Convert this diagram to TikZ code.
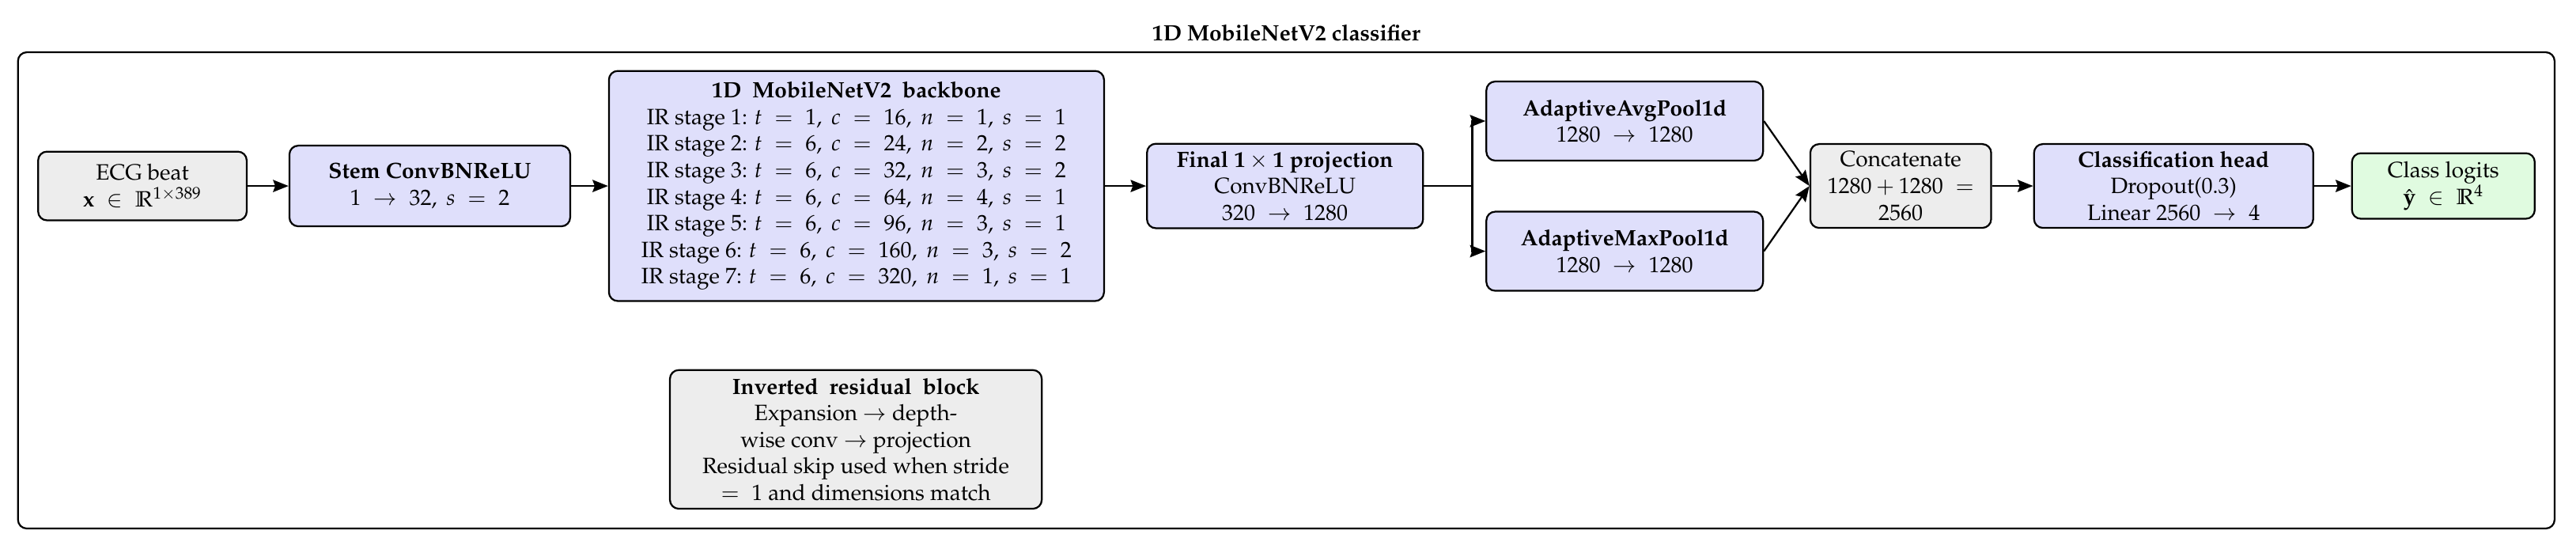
\documentclass[tikz,border=0pt]{standalone}
\usepackage[T1]{fontenc}
\usepackage{mathpazo}
\usepackage{amsmath}
\usepackage{amssymb}
\usepackage{tikz}
\usetikzlibrary{positioning, calc, arrows.meta}
\definecolor{layer}{RGB}{223,223,251}
\definecolor{boxgray}{RGB}{237,237,237}
\definecolor{outgreen}{RGB}{224,251,224}
\thickmuskip=10mu plus 2mu

\begin{document}
\begin{tikzpicture}[>={Stealth[length=7pt, width=5.5pt, inset=1pt]},
    block/.style={draw, thick, rounded corners, fill=layer, align=center, inner sep=3pt},
    plain/.style={draw, thick, rounded corners, fill=boxgray, align=center, inner sep=3pt}]
    \useasboundingbox (0,0) rectangle (40.875,-8.772);
    % outer frame
    \node[draw, thick, rounded corners, minimum width=40.25cm, minimum height=7.555cm,
      label={[font=\bfseries, label distance=1pt]above:1D MobileNetV2 classifier}] (frame) at (20.41,-4.606) {};

    % input and stem
    \node[plain, minimum width=3.31cm, minimum height=1.09cm] (X) at (2.26,-2.95) {ECG beat\\$\mathbf{x} \in \mathbb{R}^{1\times 389}$};
    \node[block, minimum width=4.455cm, minimum height=1.28cm] (S) at (6.82,-2.95) {\textbf{Stem ConvBNReLU}\\$1 \to 32,\ s = 2$};

    % backbone
    \node[block, minimum width=7.856cm, minimum height=3.65cm] (B) at (13.59,-2.95) {\textbf{1D\ \ MobileNetV2\ \ backbone}\\
      IR stage 1: $t = 1,\ c = 16,\ n = 1,\ s = 1$\\
      IR stage 2: $t = 6,\ c = 24,\ n = 2,\ s = 2$\\
      IR stage 3: $t = 6,\ c = 32,\ n = 3,\ s = 2$\\
      IR stage 4: $t = 6,\ c = 64,\ n = 4,\ s = 1$\\
      IR stage 5: $t = 6,\ c = 96,\ n = 3,\ s = 1$\\
      IR stage 6: $t = 6,\ c = 160,\ n = 3,\ s = 2$\\
      IR stage 7: $t = 6,\ c = 320,\ n = 1,\ s = 1$};
    \node[block, minimum width=4.38cm, minimum height=1.34cm] (F) at (20.39,-2.95) {\textbf{Final $\mathbf{1\times 1}$ projection}\\ConvBNReLU\\$320 \to 1280$};

    % pooling branches
    \node[block, minimum width=4.39cm, minimum height=1.255cm] (A) at (25.78,-1.92) {\textbf{AdaptiveAvgPool1d}\\$1280 \to 1280$};
    \node[block, minimum width=4.39cm, minimum height=1.255cm] (M) at (25.78,-3.985) {\textbf{AdaptiveMaxPool1d}\\$1280 \to 1280$};
    \coordinate (br) at (23.36,-2.95);

    % head
    \node[plain, minimum width=2.87cm, minimum height=1.33cm] (C) at (30.16,-2.95) {Concatenate\\$1280+1280 =$\\2560};
    \node[block, minimum width=4.43cm, minimum height=1.33cm] (H) at (34.49,-2.95) {\textbf{Classification head}\\Dropout(0.3)\\Linear $2560 \to 4$};
    \node[draw, thick, rounded corners, fill=outgreen, align=center, minimum width=2.9cm, minimum height=1.04cm] (Y) at (38.77,-2.95) {Class logits\\$\hat{\mathbf{y}} \in \mathbb{R}^{4}$};

    % note
    \node[plain, minimum width=5.9cm, minimum height=2.2cm] (IR) at (13.58,-6.97) {\textbf{Inverted\ \ residual\ \ block}\\Expansion $\to$ depth-\\wise conv $\to$ projection\\Residual skip used when stride\\$= 1$ and dimensions match};

    \draw[->, thick] (X) -- (S);
    \draw[->, thick] (S) -- (B);
    \draw[->, thick] (B) -- (F);
    \draw[thick] (F.east) -- (br);
    \draw[->, thick] (br) |- (A.west);
    \draw[->, thick] (br) |- (M.west);
    \draw[->, thick] (A.east) -- (C.west);
    \draw[->, thick] (M.east) -- (C.west);
    \draw[->, thick] (C) -- (H);
    \draw[->, thick] (H) -- (Y);
  \end{tikzpicture}
\end{document}
